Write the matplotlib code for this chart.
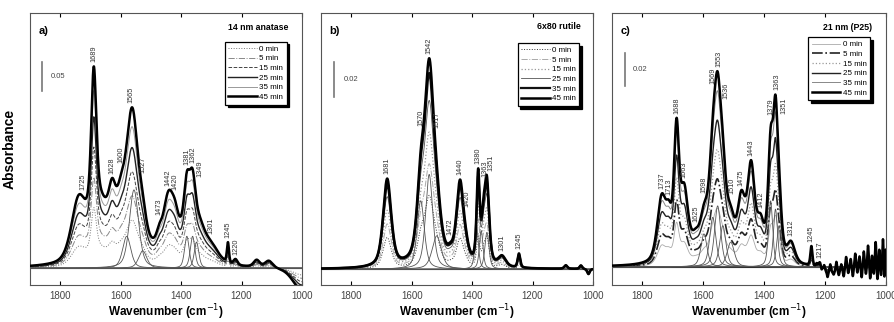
import numpy as np
import matplotlib
matplotlib.use('Agg')
import matplotlib.pyplot as plt
import matplotlib.transforms as mtrans

plt.rcParams['font.family'] = ['Liberation Sans', 'DejaVu Sans']

times = ['0 min', '5 min', '15 min', '25 min', '35 min', '45 min']
xticks = [1800, 1600, 1400, 1200, 1000]

# ---------------- panel a: 14 nm anatase ----------------
title_a = '14 nm anatase'
pos_a = [1740, 1689, 1670, 1628, 1600, 1562, 1527, 1480, 1473, 1442, 1420, 1400,
         1381, 1362, 1340, 1301, 1245, 1220, 1150, 1110, 1000]
h_a = [0.10, 0.24, 0.10, 0.07, 0.07, 0.25, 0.04, 0.02, 0.015, 0.085, 0.03, 0.035,
       0.095, 0.095, 0.05, 0.03, 0.035, 0.01, 0.012, 0.012, -0.04]
w_a = [28, 10, 40, 14, 18, 24, 16, 50, 10, 20, 14, 40,
       12, 12, 22, 30, 4, 8, 12, 15, 35]
scale_a = [0.30, 0.45, 0.60, 0.75, 0.88, 1.0]
comp_pos_a = [1580, 1556, 1527, 1381, 1362, 1349]
comp_h_a = [0.055, 0.135, 0.03, 0.055, 0.055, 0.045]
comp_w_a = [16, 18, 16, 9, 9, 9]
labels_a = ['1725', '1689', '1628', '1600', '1565', '1527', '1473', '1442', '1420',
            '1381', '1362', '1349', '1301', '1245', '1220']
bar_a = '0.05'

# ---------------- panel b: 6x80 rutile ----------------
title_b = '6x80 rutile'
pos_b = [1681, 1570, 1542, 1517, 1472, 1440, 1420, 1380, 1363, 1351, 1301, 1245,
         1090, 1040, 1015]
h_b = [0.05, 0.04, 0.105, 0.025, 0.004, 0.046, 0.006, 0.05, 0.02, 0.045, 0.006, 0.008,
       0.002, 0.002, -0.003]
w_b = [16, 15, 18, 18, 12, 14, 12, 6, 8, 9, 15, 5, 6, 5, 5]
scale_b = [0.35, 0.50, 0.65, 0.80, 0.93, 1.0]
comp_pos_b = [1570, 1542, 1517, 1385, 1370, 1351]
comp_h_b = [0.039, 0.054, 0.019, 0.024, 0.022, 0.021]
comp_w_b = [14, 14, 18, 7, 7, 8]
labels_b = ['1681', '1570', '1542', '1517', '1472', '1440', '1420', '1380', '1363',
            '1351', '1301', '1245']
bar_b = '0.02'

# ---------------- panel c: 21 nm (P25) ----------------
title_c = '21 nm (P25)'
pos_c = [1737, 1713, 1688, 1663, 1640, 1625, 1598, 1569, 1553, 1536, 1510, 1475,
         1443, 1412, 1379, 1363, 1351, 1312, 1245, 1217, 1180,
         1228, 1212, 1203, 1192, 1183, 1172, 1163, 1155, 1147, 1139, 1131, 1124,
         1116, 1109, 1101, 1094, 1087, 1080, 1073, 1066, 1059, 1052, 1046, 1040,
         1034, 1028, 1022, 1016, 1010, 1005, 1001]
h_c = [0.038, 0.02, 0.075, 0.035, 0.008, 0.005, 0.02, 0.05, 0.075, 0.04, 0.02, 0.035,
       0.055, 0.02, 0.065, 0.075, 0.03, 0.012, 0.012, 0.004, -0.004,
       0.0018, -0.0024, 0.003, -0.0036, 0.0048, -0.0018, 0.006, -0.003, 0.0036, -0.0048, 0.0073, -0.0036,
       0.0055, -0.006, 0.0085, -0.0042, 0.0067, -0.0073, 0.0097, -0.0055, 0.0133, -0.0085, 0.0073, -0.006,
       0.0158, -0.0097, 0.011, -0.0073, 0.018, -0.011, 0.012]
w_c = [17, 12, 10, 14, 40, 12, 15, 15, 14, 14, 15, 15,
       14, 14, 10, 9, 10, 15, 4, 6, 40,
       2.5, 2.5, 2.5, 2.5, 2.5, 2.5, 2.5, 2.5, 2.5, 2.5, 2.5, 2.5,
       2.5, 2.5, 2.5, 2.5, 2.5, 2.5, 2.5, 2.5, 2.5, 2.5, 2.5, 2.5,
       2.5, 2.5, 2.5, 2.5, 2.5, 2.5, 2.5]
scale_c = [0.30, 0.45, 0.60, 0.75, 0.90, 1.0]
comp_pos_c = [1598, 1569, 1553, 1536, 1510, 1379, 1363, 1351]
comp_h_c = [0.02, 0.03, 0.037, 0.025, 0.015, 0.04, 0.035, 0.025]
comp_w_c = [12, 12, 12, 12, 14, 8, 8, 9]
labels_c = ['1737', '1713', '1688', '1663', '1625', '1598', '1569', '1553', '1536',
            '1510', '1475', '1443', '1412', '1379', '1363', '1351', '1312', '1245', '1217']
bar_c = '0.02'

# styles: (color, linewidth, linestyle)
styles_a = [('#777777', 0.7, ':'), ('#888888', 0.7, '-.'), ('#444444', 0.7, '--'),
            ('#222222', 1.0, '-'), ('#999999', 0.7, '-'), ('#000000', 1.8, '-')]
styles_b = [('#333333', 0.7, ':'), ('#aaaaaa', 0.7, '-.'), ('#999999', 0.9, ':'),
            ('#555555', 0.6, '-'), ('#111111', 1.6, '-'), ('#000000', 1.8, '-')]
styles_c = [('#aaaaaa', 0.6, '-'), ('#222222', 1.2, '-.'), ('#999999', 0.9, ':'),
            ('#222222', 1.0, '-'), ('#888888', 0.7, '-'), ('#000000', 1.8, '-')]

x = np.linspace(1900, 1000, 2701)


def pv(xx, x0, h, w, eta=0.45):
    d = (xx - x0) / w
    return h * (eta / (1 + d ** 2) + (1 - eta) * np.exp(-np.log(2) * d ** 2))


def spectrum(pos, hs, ws, eta):
    y = np.zeros_like(x)
    for p, h, w in zip(pos, hs, ws):
        y += pv(x, p, h, w, eta)
    return y


fig = plt.figure(figsize=(8.95, 3.22), dpi=100)
W, H = 895.0, 322.0
panels = [
    dict(left=30, width=272, letter='a)', title=title_a, pos=pos_a, h=h_a, w=w_a, eta=0.45,
         scale=scale_a, cp=comp_pos_a, ch=comp_h_a, cw=comp_w_a, labels=labels_a,
         styles=styles_a, ylim=(-0.029, 0.44), bar=bar_a, bartop=0.355, barlen=0.05,
         barx=0.044, bartx=0.075, leg=(0.958, 0.91), tx=0.95, ty=0.945),
    dict(left=321, width=272, letter='b)', title=title_b, pos=pos_b, h=h_b, w=w_b, eta=0.55,
         scale=scale_b, cp=comp_pos_b, ch=comp_h_b, cw=comp_w_b, labels=labels_b,
         styles=styles_b, ylim=(-0.009, 0.146), bar=bar_b, bartop=0.118, barlen=0.02,
         barx=0.048, bartx=0.085, leg=(0.965, 0.905), tx=0.955, ty=0.95),
    dict(left=612, width=274, letter='c)', title=title_c, pos=pos_c, h=h_c, w=w_c, eta=0.5,
         scale=scale_c, cp=comp_pos_c, ch=comp_h_c, cw=comp_w_c, labels=labels_c,
         styles=styles_c, ylim=(-0.011, 0.154), bar=bar_c, bartop=0.130, barlen=0.02,
         barx=0.048, bartx=0.075, leg=(0.957, 0.926), tx=0.95, ty=0.945),
]

MIN_GAP_PX = 6.5

for i, P in enumerate(panels):
    ax = fig.add_axes([P['left'] / W, 1 - 285 / H, P['width'] / W, 272 / H])
    ax.set_xlim(1900, 1000)
    ax.set_ylim(*P['ylim'])
    ax.axhline(0, color='#222222', lw=0.8, zorder=1)
    base = spectrum(P['pos'], P['h'], P['w'], P['eta'])
    handles = []
    for t, s, (c, lw, ls) in zip(times, P['scale'], P['styles']):
        ln, = ax.plot(x, base * s, color=c, lw=lw, ls=ls, zorder=3 if lw > 1.5 else 2)
        handles.append(ln)
    for p, h, w in zip(P['cp'], P['ch'], P['cw']):
        ax.plot(x, pv(x, p, h, w, P['eta']), color='#555555', lw=0.6, zorder=2)
    # peak labels (spread horizontally if they would collide)
    px_per_unit = P['width'] / 900.0
    last_px = -1e9
    for lab in sorted(P['labels'], key=lambda s: -float(s)):
        v = float(lab)
        m = np.abs(x - v) <= 7
        yv = base[m].max()
        px = (1900 - v) * px_per_unit
        newpx = max(px, last_px + MIN_GAP_PX)
        last_px = newpx
        dx_pt = (newpx - px) * 72 / 100.0
        ax.annotate(lab, (v, yv), xytext=(dx_pt, 3), textcoords='offset points',
                    rotation=90, ha='center', va='bottom', fontsize=5.3, color='#333333')
    # scale bar
    btr = mtrans.blended_transform_factory(ax.transAxes, ax.transData)
    ax.plot([P['barx'], P['barx']], [P['bartop'] - P['barlen'], P['bartop']],
            transform=btr, color='#777777', lw=1.2)
    ax.text(P['bartx'], P['bartop'] - P['barlen'] / 2, P['bar'], transform=btr,
            fontsize=5.5, color='#444444', va='center', ha='left')
    ax.text(0.03, 0.935, P['letter'], transform=ax.transAxes, fontsize=8,
            fontweight='bold', va='center', ha='left')
    ax.text(P['tx'], P['ty'], P['title'], transform=ax.transAxes, fontsize=6.3,
            fontweight='bold', va='center', ha='right')
    leg = ax.legend(handles, times, loc='upper right', bbox_to_anchor=P['leg'],
                    fontsize=5.8, handlelength=3.5, handletextpad=0.3,
                    labelspacing=0.25, borderpad=0.45, fancybox=False,
                    shadow={'color': 'black', 'alpha': 1.0}, framealpha=1)
    leg.get_frame().set_edgecolor('black')
    leg.get_frame().set_linewidth(0.9)
    ax.set_xticks(xticks)
    ax.set_xticklabels([str(v) for v in xticks])
    ax.set_yticks([])
    ax.tick_params(axis='x', direction='in', top=True, length=3, width=0.8,
                   labelsize=7, labelcolor='#444444', pad=4)
    for sp in ax.spines.values():
        sp.set_color('#555555')
        sp.set_linewidth(0.8)
    ax.set_xlabel('Wavenumber (cm$^{-1}$)', fontsize=8.5, fontweight='bold', labelpad=1)
    if i == 0:
        ax.set_ylabel('Absorbance', fontsize=10, fontweight='bold')
        ax.yaxis.set_label_coords(-0.05, 0.5)

fig.savefig('out.png', dpi=100)
